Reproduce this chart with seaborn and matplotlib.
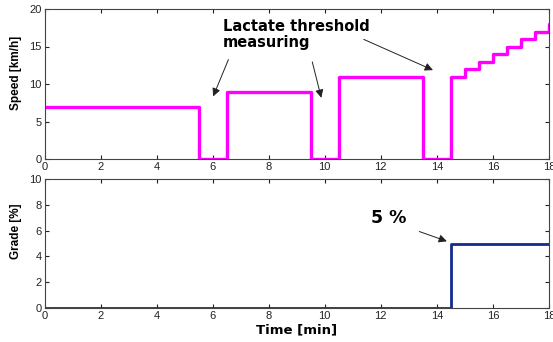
import matplotlib
matplotlib.use("Agg")
import matplotlib.pyplot as plt
import seaborn as sns
import pandas as pd

# Speed profile (step, 'post') [min, km/h]
speed_time = [0, 5.5, 6.5, 9.5, 10.5, 13.5, 14.5, 15.0, 15.5, 16.0, 16.5, 17.0, 17.5, 18.0]
speed_vals = [7, 0, 9, 0, 11, 0, 11, 12, 13, 14, 15, 16, 17, 18]

# Grade profile [min, %]
grade_time = [0, 14.5, 18.0]
grade_vals = [0, 5, 5]

x_ticks = [0, 2, 4, 6, 8, 10, 12, 14, 16, 18]
speed_ticks = [0, 5, 10, 15, 20]
grade_ticks = [0, 2, 4, 6, 8, 10]

sns.set_theme(style="white")
plt.rcParams['font.family'] = ['Liberation Sans', 'DejaVu Sans']

fig = plt.figure(figsize=(5.53, 3.42), dpi=100)
W, H = 553, 342
ax1 = fig.add_axes([44.5 / W, 1 - 159 / H, 504.5 / W, 150 / H])
ax2 = fig.add_axes([44.5 / W, 1 - 308 / H, 504.5 / W, 129 / H])

df_s = pd.DataFrame({"t": speed_time, "v": speed_vals})
df_g = pd.DataFrame({"t": grade_time, "v": grade_vals})

sns.lineplot(data=df_s, x="t", y="v", ax=ax1, drawstyle="steps-post",
             color="#FF00FF", linewidth=2.4, estimator=None, sort=False)
sns.lineplot(data=df_g, x="t", y="v", ax=ax2, drawstyle="steps-post",
             color="#102C8C", linewidth=2.0, estimator=None, sort=False)

for ax, yt, ylim in [(ax1, speed_ticks, (0, 20)), (ax2, grade_ticks, (0, 10))]:
    ax.set_xlim(0, 18)
    ax.set_ylim(*ylim)
    ax.set_xticks(x_ticks)
    ax.set_yticks(yt)
    ax.tick_params(direction="in", length=3, width=0.8, top=True, right=True,
                   bottom=True, left=True, labelsize=8, pad=2, colors="#222222")
    for sp in ax.spines.values():
        sp.set_visible(True)
        sp.set_color("#444444")
        sp.set_linewidth(0.8)
    ax.set_xlabel("")

bold = dict(family=["DejaVu Sans"], fontweight="bold", color="black")
lbold = dict(family=["Liberation Sans", "DejaVu Sans"], fontweight="bold", color="black")
ax1.set_ylabel("Speed [km/h]", fontsize=8.5, **lbold)
ax2.set_ylabel("Grade [%]", fontsize=8.5, **lbold)
ax1.yaxis.set_label_coords(-0.044, 0.573)
ax2.yaxis.set_label_coords(-0.044, 0.597)
ax2.set_xlabel("Time [min]", fontsize=9.5, labelpad=2, **bold)

ax1.text(6.36, 16.6, "Lactate threshold\nmeasuring", fontsize=10.5,
         ha="left", va="center", linespacing=1.1, **bold)

arrow = dict(arrowstyle="-|>", color="#222222", lw=0.7, mutation_scale=12)
ax1.annotate("", xy=(5.98, 8.0), xytext=(6.6, 13.6), arrowprops=arrow)
ax1.annotate("", xy=(9.9, 7.8), xytext=(9.53, 13.3), arrowprops=arrow)
ax1.annotate("", xy=(13.95, 11.7), xytext=(11.3, 16.1), arrowprops=arrow)

ax2.text(12.27, 7.0, "5 %", fontsize=12.5, ha="center", va="center", **bold)
ax2.annotate("", xy=(14.45, 5.1), xytext=(13.28, 6.0), arrowprops=arrow)

fig.savefig("out.png", dpi=100)
